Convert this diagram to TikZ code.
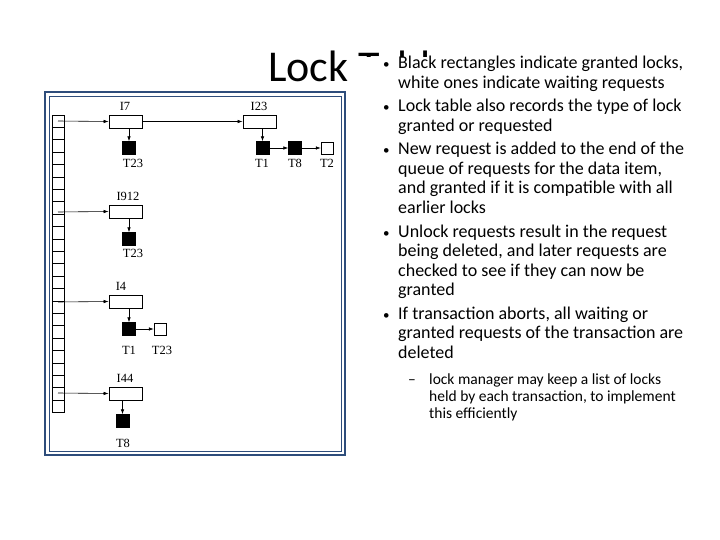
\documentclass[tikz,border=0pt]{standalone}
\usepackage{fontspec}
\setmainfont{Carlito}
\newfontfamily\fig{Liberation Serif}
\usetikzlibrary{arrows.meta}
\definecolor{frameblue}{HTML}{2E4D7B}
\begin{document}
\begin{tikzpicture}[x=1pt,y=-1pt,
  rec/.style={draw,thick,minimum width=33pt,minimum height=13pt,inner sep=0pt},
  blk/.style={draw,fill=black,minimum size=13pt,inner sep=0pt},
  wht/.style={draw,fill=white,minimum size=12pt,inner sep=0pt},
  lab/.style={font=\fig\fontsize{12.5}{12.5}\selectfont,inner sep=0pt},
  arr/.style={-{Latex[length=5pt,width=3.5pt]},semithick},
  bl/.style={anchor=base west,inner sep=0pt,font=\fontsize{18}{18}\selectfont},
  sb/.style={anchor=base west,inner sep=0pt,font=\fontsize{15.5}{15.5}\selectfont}]
\useasboundingbox (0,0) rectangle (720,540);
\fill[white] (0,0) rectangle (720,540);
\node[anchor=base west,inner sep=0pt,font=\fontsize{44}{44}\selectfont] (title) at (268,82) {Lock Table};
\fill[white] (358,57) rectangle (720,540);
% frame
\draw[frameblue,line width=2.5pt] (45,92) rectangle (345,455);
\draw[frameblue,line width=0.8pt] (49,96) rectangle (341,451);
% column
\foreach \i in {0,...,23} {\draw[thick] (52,{115+\i*12.4}) rectangle (64,{115+(\i+1)*12.4});}
\coordinate (c1) at (58,121); \coordinate (c2) at (58,212);
\coordinate (c3) at (58,302); \coordinate (c4) at (58,393);
% nodes
\node[rec] (i7) at (125.5,121.5) {}; \node[lab,anchor=south] at (125,111) {I7};
\node[rec] (i23) at (259.5,121.5) {}; \node[lab,anchor=south] at (259,111) {I23};
\node[blk] (a1) at (129,148) {}; \node[lab] at (133,163) {T23};
\node[blk] (b1) at (262.5,148) {}; \node[lab] at (262,163) {T1};
\node[blk] (b2) at (295,148) {}; \node[lab] at (295,163) {T8};
\node[wht] (b3) at (327,148) {}; \node[lab] at (327,163) {T2};
\node[rec] (i912) at (125.5,211.5) {}; \node[lab,anchor=south] at (128,201) {I912};
\node[blk] (a2) at (129,239) {}; \node[lab] at (133,253) {T23};
\node[rec] (i4) at (125.5,301.5) {}; \node[lab,anchor=south] at (121,291) {I4};
\node[blk] (a3) at (129,329) {}; \node[lab] at (129,350) {T1};
\node[wht] (w3) at (160,329) {}; \node[lab] at (162,350) {T23};
\node[rec] (i44) at (125.5,393.5) {}; \node[lab,anchor=south] at (125,383) {I44};
\node[blk] (a4) at (122.5,421) {}; \node[lab] at (123,443) {T8};
% connectors
\draw[arr] (c1) -- (i7.west);
\draw[arr] (i7.east) -- (i23.west);
\draw[arr] (c2) -- (i912.west);
\draw[arr] (c3) -- (i4.west);
\draw[arr] (c4) -- (i44.west);
\draw[arr] (i7.south -| a1) -- (a1.north);
\draw[arr] (i23.south -| b1) -- (b1.north);
\draw[arr] (b1) -- (b2);
\draw[arr] (b2) -- (b3);
\draw[arr] (i912.south -| a2) -- (a2.north);
\draw[arr] (i4.south -| a3) -- (a3.north);
\draw[arr] (a3) -- (w3);
\draw[arr] (i44.south -| a4) -- (a4.north);
% bullets
\foreach \y in {69,112,155,237,319} {\node[anchor=base west,inner sep=0pt,font=\fontsize{13}{13}\selectfont] at (383,\y) {•};}
\node[bl] at (398,69) {Black rectangles indicate granted locks,};
\node[bl] at (398,88.5) {white ones indicate waiting requests};
\node[bl] at (398,112) {Lock table also records the type of lock};
\node[bl] at (398,131.5) {granted or requested};
\node[bl] at (398,155) {New request is added to the end of the};
\node[bl] at (398,174.5) {queue of requests for the data item,};
\node[bl] at (398,194) {and granted if it is compatible with all};
\node[bl] at (398,213.5) {earlier locks};
\node[bl] at (398,237) {Unlock requests result in the request};
\node[bl] at (398,256.5) {being deleted, and later requests are};
\node[bl] at (398,276) {checked to see if they can now be};
\node[bl] at (398,295.5) {granted};
\node[bl] at (398,319) {If transaction aborts, all waiting or};
\node[bl] at (398,338.5) {granted requests of the transaction are};
\node[bl] at (398,358) {deleted};
\node[sb] at (408,384) {–};
\node[sb] at (429,384) {lock manager may keep a list of locks};
\node[sb] at (429,401) {held by each transaction, to implement};
\node[sb] at (429,418) {this efficiently};
\end{tikzpicture}
\end{document}
